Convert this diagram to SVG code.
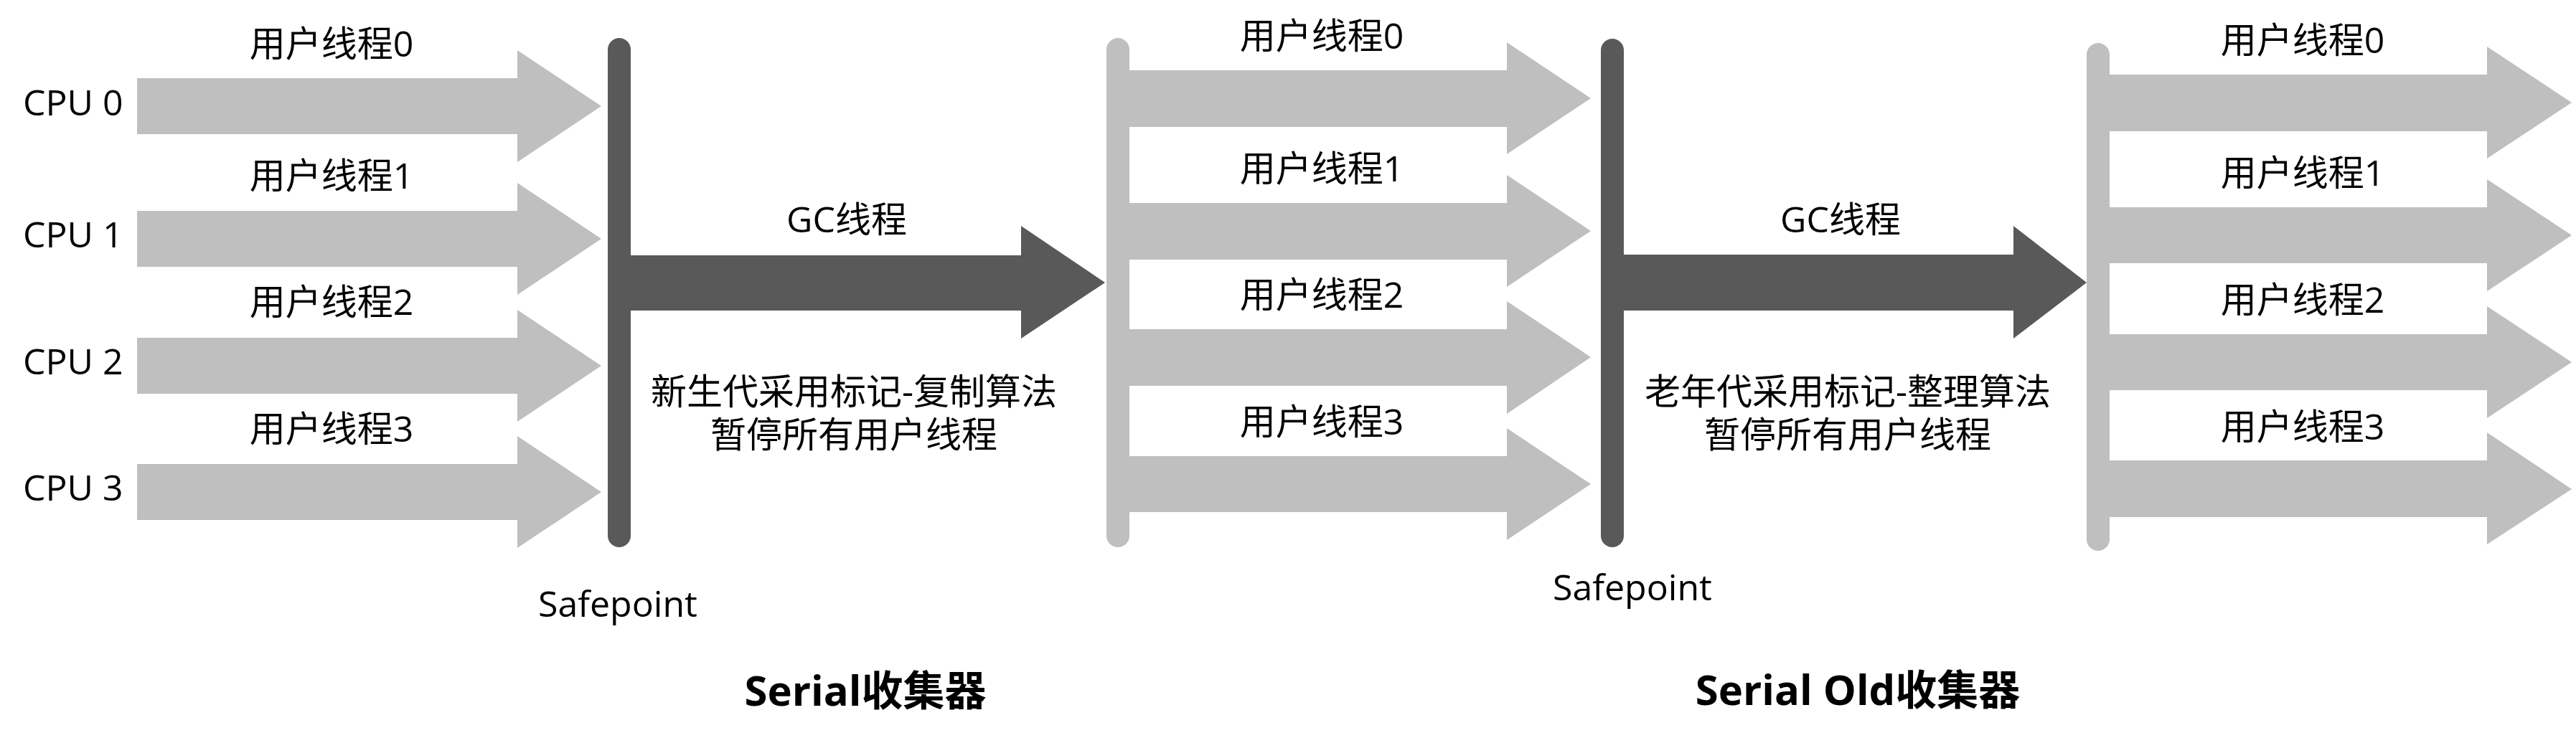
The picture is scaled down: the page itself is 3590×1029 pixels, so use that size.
<svg xmlns="http://www.w3.org/2000/svg" width="3590" height="1029" viewBox="0 0 3590 1029">
<style>
.bg{fill:#ffffff}
.ua{fill:#bfbfbf}
.ga{fill:#595959}
.bar-d{stroke:#595959;stroke-width:32;stroke-linecap:round;fill:none}
.bar-l{stroke:#bfbfbf;stroke-width:32;stroke-linecap:round;fill:none}
text{font-family:"Open Sans","Noto Sans CJK SC",sans-serif;font-size:50px;fill:#000000}
.c{text-anchor:middle}
.title{font-size:58px;font-weight:bold}
</style>
<rect class="bg" x="0" y="0" width="3590" height="1029"/>
<g id="connectors">
  <polygon class="ua" points="191,109 721,109 721,70 838,148 721,226 721,187 191,187"/>
  <polygon class="ua" points="191,294 721,294 721,255 838,333 721,411 721,372 191,372"/>
  <polygon class="ua" points="191,471 721,471 721,432 838,510 721,588 721,549 191,549"/>
  <polygon class="ua" points="191,647 721,647 721,608 838,686 721,764 721,725 191,725"/>
  <polygon class="ga" points="863,356 1423,356 1423,315 1540,394 1423,472 1423,433 863,433"/>
  <polygon class="ua" points="1558,98 2100,98 2100,59 2217,137 2100,215 2100,177 1558,177"/>
  <polygon class="ua" points="1558,283 2100,283 2100,244 2217,322 2100,400 2100,362 1558,362"/>
  <polygon class="ua" points="1558,459 2100,459 2100,420 2217,498 2100,577 2100,538 1558,538"/>
  <polygon class="ua" points="1558,636 2100,636 2100,597 2217,675 2100,753 2100,714 1558,714"/>
  <polygon class="ga" points="2247,355 2806,355 2806,315 2908,394 2806,472 2806,433 2247,433"/>
  <polygon class="ua" points="2924,104 3466,104 3466,65 3584,143 3466,221 3466,183 2924,183"/>
  <polygon class="ua" points="2924,289 3466,289 3466,250 3584,328 3466,406 3466,367 2924,367"/>
  <polygon class="ua" points="2924,466 3466,466 3466,427 3584,505 3466,583 3466,544 2924,544"/>
  <polygon class="ua" points="2924,642 3466,642 3466,603 3584,682 3466,759 3466,721 2924,721"/>
</g>
<g id="safepoint-1">
  <line class="bar-d" x1="863" y1="69" x2="863" y2="747"/>
  <text x="750" y="860">Safepoint</text>
</g>
<g id="resume-1">
  <line class="bar-l" x1="1558" y1="69" x2="1558" y2="747"/>
</g>
<g id="safepoint-2">
  <line class="bar-d" x1="2247" y1="70" x2="2247" y2="747"/>
  <text x="2164" y="837">Safepoint</text>
</g>
<g id="resume-2">
  <line class="bar-l" x1="2924" y1="76" x2="2924" y2="752"/>
</g>
<g id="cpu-labels">
  <text x="32" y="161">CPU 0</text>
  <text x="32" y="345">CPU 1</text>
  <text x="32" y="522">CPU 2</text>
  <text x="32" y="698">CPU 3</text>
</g>
<g id="threads-left">
  <text class="c" x="462" y="79">用户线程0</text>
  <text class="c" x="462" y="263">用户线程1</text>
  <text class="c" x="462" y="439">用户线程2</text>
  <text class="c" x="462" y="616">用户线程3</text>
</g>
<g id="threads-middle">
  <text class="c" x="1842" y="68">用户线程0</text>
  <text class="c" x="1842" y="253">用户线程1</text>
  <text class="c" x="1842" y="429">用户线程2</text>
  <text class="c" x="1842" y="606">用户线程3</text>
</g>
<g id="threads-right">
  <text class="c" x="3209" y="74">用户线程0</text>
  <text class="c" x="3209" y="259">用户线程1</text>
  <text class="c" x="3209" y="436">用户线程2</text>
  <text class="c" x="3209" y="613">用户线程3</text>
</g>
<g id="gc-1">
  <text class="c" x="1180" y="324">GC线程</text>
  <text class="c" x="1190" y="564">新生代采用标记-复制算法</text>
  <text class="c" x="1190" y="624">暂停所有用户线程</text>
</g>
<g id="gc-2">
  <text class="c" x="2565" y="324">GC线程</text>
  <text class="c" x="2575" y="564">老年代采用标记-整理算法</text>
  <text class="c" x="2575" y="624">暂停所有用户线程</text>
</g>
<g id="titles">
  <text class="c title" x="1206" y="984">Serial收集器</text>
  <text class="c title" x="2589" y="983">Serial Old收集器</text>
</g>
</svg>
